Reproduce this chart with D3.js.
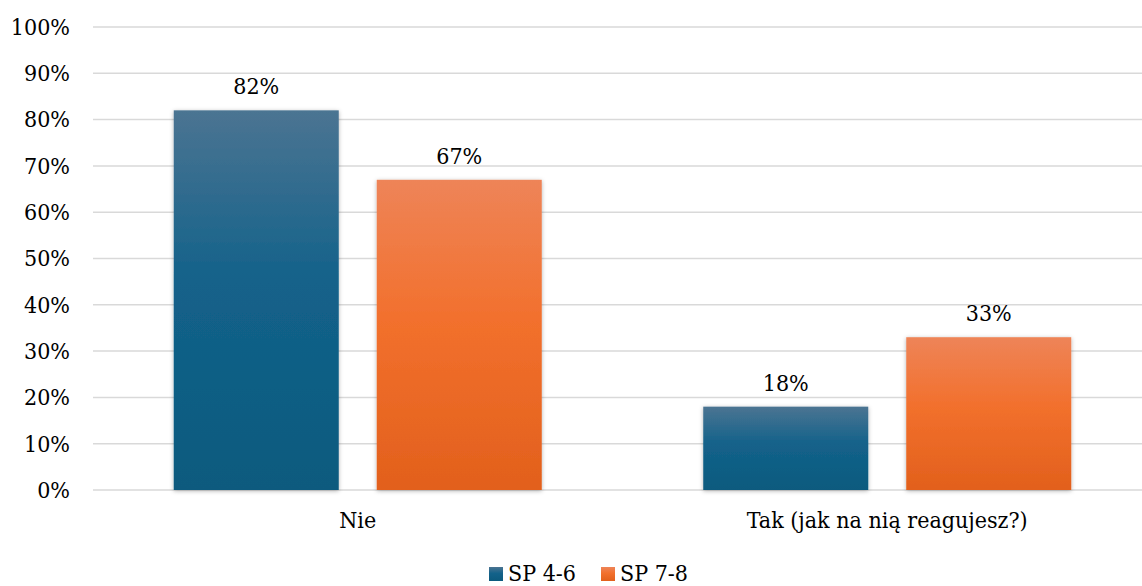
<!DOCTYPE html>
<html><head><meta charset="utf-8">
<script src="https://cdn.jsdelivr.net/npm/d3@7"></script>
<style>body{margin:0;background:#fff}svg{display:block}</style>
</head><body>
<script>
const categories = ["Nie", "Tak (jak na nią reagujesz?)"];
const seriesNames = ["SP 4-6", "SP 7-8"];
const sp46 = [0.82, 0.18];
const sp78 = [0.67, 0.33];
const yTicks = [0,0.1,0.2,0.3,0.4,0.5,0.6,0.7,0.8,0.9,1.0];

const W = 1142, H = 586;
const FONT = "DejaVu Serif";
const FS = "23px";
const svg = d3.select("body").append("svg").attr("width", W).attr("height", H)
  .attr("font-family", FONT).style("font-stretch", "condensed");

const defs = svg.append("defs");
const grads = [
  {id:"gBlue", stops:[["0%","#4b7492"],["45%","#13628a"],["100%","#0c5a7e"]]},
  {id:"gOrange", stops:[["0%","#ee8458"],["45%","#f2702d"],["100%","#e2601c"]]}
];
grads.forEach(g=>{
  const lg = defs.append("linearGradient").attr("id", g.id).attr("x1",0).attr("y1",0).attr("x2",0).attr("y2",1);
  g.stops.forEach(s=>lg.append("stop").attr("offset", s[0]).attr("stop-color", s[1]));
});
const f = defs.append("filter").attr("id","sh").attr("x","-10%").attr("y","-10%").attr("width","120%").attr("height","120%");
f.append("feDropShadow").attr("dx",0).attr("dy",1).attr("stdDeviation",2).attr("flood-color","#000").attr("flood-opacity",0.3);

const y = d3.scaleLinear().domain([0,1]).range([490, 27]);
const x0 = d3.scaleBand().domain(categories).range([93, 1152]).paddingInner(0).paddingOuter(0);
const x1 = d3.scaleBand().domain(seriesNames).range([80.75, x0.bandwidth()-80.75]).paddingInner(38/203);

// grid
svg.append("g").selectAll("line").data(yTicks).join("line")
  .attr("x1", 93).attr("x2", 1142)
  .attr("y1", d=>y(d)).attr("y2", d=>y(d))
  .attr("stroke", "#d9d9d9").attr("stroke-width", 1.5);

// y tick labels
const yAxis = d3.axisLeft(y).tickValues(yTicks).tickFormat(d3.format(".0%")).tickSize(0).tickPadding(0);
const ya = svg.append("g").attr("transform","translate(70,0)").call(yAxis);
ya.attr("font-family", FONT).attr("font-size", FS);
ya.select(".domain").remove();
ya.selectAll("text").attr("fill","#000");

const colors = ["url(#gBlue)", "url(#gOrange)"];
const series = [sp46, sp78];
categories.forEach((c,i)=>{
  const g = svg.append("g").attr("transform", `translate(${x0(c)},0)`);
  seriesNames.forEach((s,j)=>{
    const v = series[j][i];
    g.append("rect").attr("x", x1(s)).attr("width", x1.bandwidth())
      .attr("y", y(v)).attr("height", y(0)-y(v))
      .attr("fill", colors[j]).attr("filter","url(#sh)");
    g.append("text").attr("x", x1(s)+x1.bandwidth()/2).attr("y", y(v)-16)
      .attr("text-anchor","middle").attr("font-size", FS)
      .attr("fill","#000").text(d3.format(".0%")(v));
  });
});

// x axis labels
const xAxis = d3.axisBottom(x0).tickSize(0).tickPadding(0);
const xa = svg.append("g").attr("transform","translate(0,512)").call(xAxis);
xa.attr("font-family", FONT).attr("font-size", FS);
xa.select(".domain").remove();
xa.selectAll("text").attr("fill","#000").attr("dy","0.71em");

// legend
const legX = [489, 601];
const lg = svg.append("g").attr("font-size", FS);
seriesNames.forEach((s,j)=>{
  lg.append("rect").attr("x", legX[j]).attr("y", 567).attr("width", 14).attr("height", 14).attr("fill", colors[j]);
  lg.append("text").attr("x", legX[j]+19).attr("y", 581).attr("fill","#000").text(s);
});
</script>
</body></html>
